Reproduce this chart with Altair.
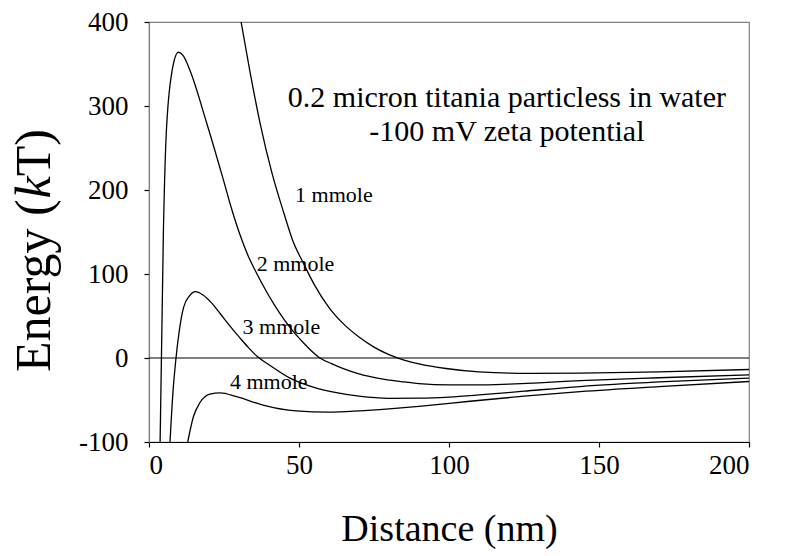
import altair as alt
import pandas as pd

# ---- data ----
x_1mm = [30.7, 33.7, 37, 41, 45, 48, 51.3, 55, 60, 65, 70, 75, 80, 85, 90, 99, 110, 127, 143.7, 170, 200]
y_1mm = [400, 340, 280, 220, 172, 139, 114, 88, 60, 40, 25, 13, 4, -2.5, -7, -12.5, -16.5, -18.3, -18, -16.5, -13.7]

x_2mm = [3.7, 4.8, 5.7, 7.7, 9.8, 11.4, 13.7, 19.2, 24.8, 27.5, 30.3, 33, 36, 39, 42, 45, 48, 51, 54, 57, 61, 65, 70, 77, 84, 90, 100, 110, 120, 130, 143.7, 170, 200]
y_2mm = [-100, 150, 263, 342, 364, 360, 342, 280, 212, 178, 147, 122, 100, 80, 62, 46, 32, 20, 9, 0, -7, -13, -19, -24.5, -28, -30.5, -32, -32, -31, -29.5, -27, -23.5, -20]

x_3mm = [7, 8, 9, 10, 11.5, 13.5, 15.5, 18, 21, 23.7, 27, 30.3, 33, 36, 40, 47, 55, 62, 70, 80, 90, 100, 110, 125, 143.7, 170, 200]
y_3mm = [-100, -40, 0, 30, 60, 74, 79, 75, 65, 53, 38, 24, 13, 2, -8, -24, -35, -41, -45.5, -48, -47.8, -46.5, -44, -39.5, -34, -28.5, -24]

x_4mm = [12.9, 14.8, 17, 20.3, 23.7, 29.2, 38, 49, 60, 70, 80, 90, 107, 125, 143.7, 170, 200]
y_4mm = [-100, -70, -53, -43, -41.5, -46, -56, -63, -64.5, -63, -60.5, -57.5, -51.5, -45.5, -40, -34, -28]

series_names = ["1 mmole", "2 mmole", "3 mmole", "4 mmole"]

label_text = ["1 mmole", "2 mmole", "3 mmole", "4 mmole"]
label_x = [48.7, 35.9, 31.2, 27.0]
label_y = [185.5, 103.3, 28.8, -36.7]

note_text = ["0.2 micron titania particless in water", "-100 mV zeta potential"]
note_x = [119.3, 119.3]
note_y = [298.6, 258.9]

x_ticks = [0, 50, 100, 150, 200]
y_ticks = [-100, 0, 100, 200, 300, 400]

FONT = "Liberation Serif, Times New Roman, serif"

rows = []
for name, xs, ys in zip(series_names, [x_1mm, x_2mm, x_3mm, x_4mm], [y_1mm, y_2mm, y_3mm, y_4mm]):
    for i, (a, b) in enumerate(zip(xs, ys)):
        rows.append({"series": name, "x": a, "y": b, "order": i})
curves = pd.DataFrame(rows)

xscale = alt.Scale(domain=[0, 200], nice=False, zero=False)
yscale = alt.Scale(domain=[-100, 400], nice=False, zero=False)

xaxis = alt.Axis(values=x_ticks, title="Distance (nm)", grid=False, tickSize=5,
                 labelFontSize=27, labelPadding=5, titleFontSize=38,
                 titleY=98, titleBaseline="alphabetic")
yaxis = alt.Axis(values=y_ticks, title=None, grid=False, tickSize=5,
                 labelFontSize=27, labelPadding=16, domainColor="#808080",
                 labelExpr="datum.value < 0 ? '-' + abs(datum.value) : datum.label")

lines = alt.Chart(curves).mark_line(clip=True, color="black", strokeWidth=1.3,
                                    interpolate="monotone").encode(
    x=alt.X("x:Q", scale=xscale, axis=xaxis),
    y=alt.Y("y:Q", scale=yscale, axis=yaxis),
    detail="series:N",
    order="order:Q",
)

zero = alt.Chart(pd.DataFrame({"y": [0]})).mark_rule(color="black", strokeWidth=1.2).encode(
    y=alt.Y("y:Q", scale=yscale)
)

labels = alt.Chart(pd.DataFrame({"t": label_text, "x": label_x, "y": label_y})).mark_text(
    font=FONT, fontSize=22, align="left", baseline="alphabetic", color="black"
).encode(x=alt.X("x:Q", scale=xscale), y=alt.Y("y:Q", scale=yscale), text="t:N")

notes = alt.Chart(pd.DataFrame({"t": note_text, "x": note_x, "y": note_y})).mark_text(
    font=FONT, fontSize=30, align="center", baseline="alphabetic", color="black"
).encode(x=alt.X("x:Q", scale=xscale), y=alt.Y("y:Q", scale=yscale), text="t:N")

# y-axis title with italic k, built from three rotated pieces
ytitle_parts = ["Energy (", "k", "T)"]
ytitle_style = ["normal", "italic", "normal"]
YT_SIZE = 50
ytitle_em = [3.471, 0.444, 0.944]
ytitle_start = 350
ytitle_pos = [ytitle_start,
              ytitle_start - ytitle_em[0] * YT_SIZE,
              ytitle_start - (ytitle_em[0] + ytitle_em[1]) * YT_SIZE]
ytitle_layers = []
for part, style, pos in zip(ytitle_parts, ytitle_style, ytitle_pos):
    ytitle_layers.append(
        alt.Chart(pd.DataFrame({"t": [part]})).mark_text(
            font=FONT, fontSize=YT_SIZE, fontStyle=style, angle=270, align="left",
            baseline="alphabetic", color="black"
        ).encode(x=alt.value(-99), y=alt.value(pos), text="t:N")
    )

chart = alt.layer(lines, zero, labels, notes, *ytitle_layers).properties(
    width=600, height=420,
    autosize=alt.AutoSizeParams(type="none"),
    padding={"left": 149, "top": 22, "right": 37, "bottom": 114},
    background="white",
).configure_view(stroke="#808080", strokeWidth=1.2).configure_axis(
    labelFont=FONT, titleFont=FONT, labelColor="black", titleColor="black",
    domainColor="black", tickColor="black", titleFontWeight="normal",
    domainWidth=1.2, tickWidth=1.2,
)

chart.save("out.html", embed_options={"renderer": "svg", "actions": False})
